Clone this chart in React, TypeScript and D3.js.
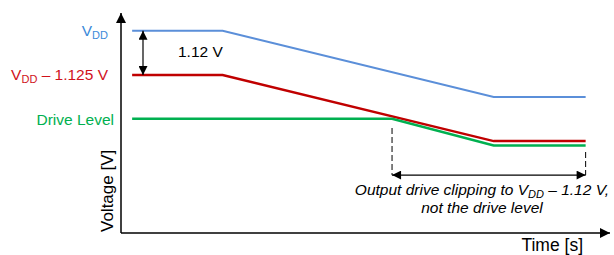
import * as d3 from "d3";

// time in arbitrary units, voltage in volts
const vddTime = [2.3, 21, 77, 96];
const vddVolts = [5.17, 5.17, 3.48, 3.48];
const clipTime = [2.3, 21, 77, 96];
const clipVolts = [4.04, 4.04, 2.35, 2.35];
const driveTime = [2.3, 56, 77, 96];
const driveVolts = [2.92, 2.92, 2.24, 2.24];

const clipStart = 56;
const clipEnd = 96;

const W = 614;
const H = 255;

const x = d3.scaleLinear().domain([0, 100]).range([121, 605]);
const y = d3.scaleLinear().domain([0, 5.6]).range([233, 14]);

const toPts = (t: number[], v: number[]) => t.map((d, i) => [d, v[i]] as [number, number]);

const lineGen = d3
  .line<[number, number]>()
  .x((d) => x(d[0]))
  .y((d) => y(d[1]));

const BLUE = "#5b8fd9";
const BLUE_TXT = "#3b8ad9";
const RED = "#c00000";
const RED_TXT = "#d0111b";
const GREEN = "#00b050";
const FONT = "Liberation Sans, Arial, sans-serif";

export default function App() {
  const ax0 = x(0);
  const ay0 = y(0);
  const arrowY = y(1.48);
  const measX = 143;
  return (
    <svg
      width={W}
      height={H}
      style={{ position: "absolute", left: 0, top: 0, background: "#fff" }}
      fontFamily={FONT}
    >
      <defs>
        <marker id="ah" viewBox="0 0 10 10" refX="10" refY="5" markerWidth="11" markerHeight="9" markerUnits="userSpaceOnUse" orient="auto-start-reverse">
          <path d="M0,0 L10,5 L0,10 z" fill="#000" />
        </marker>
        <marker id="axh" viewBox="0 0 10 10" refX="10" refY="5" markerWidth="11" markerHeight="10" markerUnits="userSpaceOnUse" orient="auto">
          <path d="M0,0 L10,5 L0,10 z" fill="#000" />
        </marker>
      </defs>

      {/* axes */}
      <line x1={ax0} y1={ay0} x2={ax0} y2={13} stroke="#000" strokeWidth={1.5} markerEnd="url(#axh)" />
      <line x1={ax0} y1={ay0} x2={610} y2={ay0} stroke="#000" strokeWidth={1.5} markerEnd="url(#axh)" />

      {/* series */}
      <path d={lineGen(toPts(vddTime, vddVolts)) ?? ""} fill="none" stroke={BLUE} strokeWidth={2} />
      <path d={lineGen(toPts(clipTime, clipVolts)) ?? ""} fill="none" stroke={RED} strokeWidth={2.5} />
      <path d={lineGen(toPts(driveTime, driveVolts)) ?? ""} fill="none" stroke={GREEN} strokeWidth={2.5} />

      {/* 1.12 V measure */}
      <line x1={measX} y1={y(vddVolts[0])} x2={measX} y2={y(clipVolts[0])} stroke="#000" strokeWidth={1.2} markerStart="url(#ah)" markerEnd="url(#ah)" />
      <text x={178} y={57} fontSize={15.5} fill="#000">1.12 V</text>

      {/* clipping span */}
      <line x1={x(clipStart)} y1={128} x2={x(clipStart)} y2={arrowY} stroke="#000" strokeWidth={1} strokeDasharray="6,3" />
      <line x1={x(clipEnd)} y1={152} x2={x(clipEnd)} y2={arrowY} stroke="#000" strokeWidth={1} strokeDasharray="6,3" />
      <line x1={x(clipStart)} y1={arrowY} x2={x(clipEnd)} y2={arrowY} stroke="#000" strokeWidth={1.2} markerStart="url(#ah)" markerEnd="url(#ah)" />
      <text x={482} y={195} fontSize={15.5} fontStyle="italic" textAnchor="middle" fill="#000">
        Output drive clipping to V<tspan fontSize={11} dy={3}>DD</tspan>
        <tspan dy={-3}> – 1.12 V,</tspan>
      </text>
      <text x={482} y={213} fontSize={15.5} fontStyle="italic" textAnchor="middle" fill="#000">
        not the drive level
      </text>

      {/* level labels */}
      <text x={108} y={36} fontSize={15.5} textAnchor="end" fill={BLUE_TXT}>
        V<tspan fontSize={11} dy={3}>DD</tspan>
      </text>
      <text x={108} y={80} fontSize={15.5} textAnchor="end" fill={RED_TXT}>
        V<tspan fontSize={11} dy={3}>DD</tspan>
        <tspan dy={-3}> – 1.125 V</tspan>
      </text>
      <text x={114} y={125} fontSize={15.5} textAnchor="end" fill={GREEN}>
        Drive Level
      </text>

      {/* axis titles */}
      <text x={583} y={251} fontSize={17.5} textAnchor="end" fill="#000">Time [s]</text>
      <text transform="translate(113,232) rotate(-90)" fontSize={17} fill="#000">Voltage [V]</text>
    </svg>
  );
}
